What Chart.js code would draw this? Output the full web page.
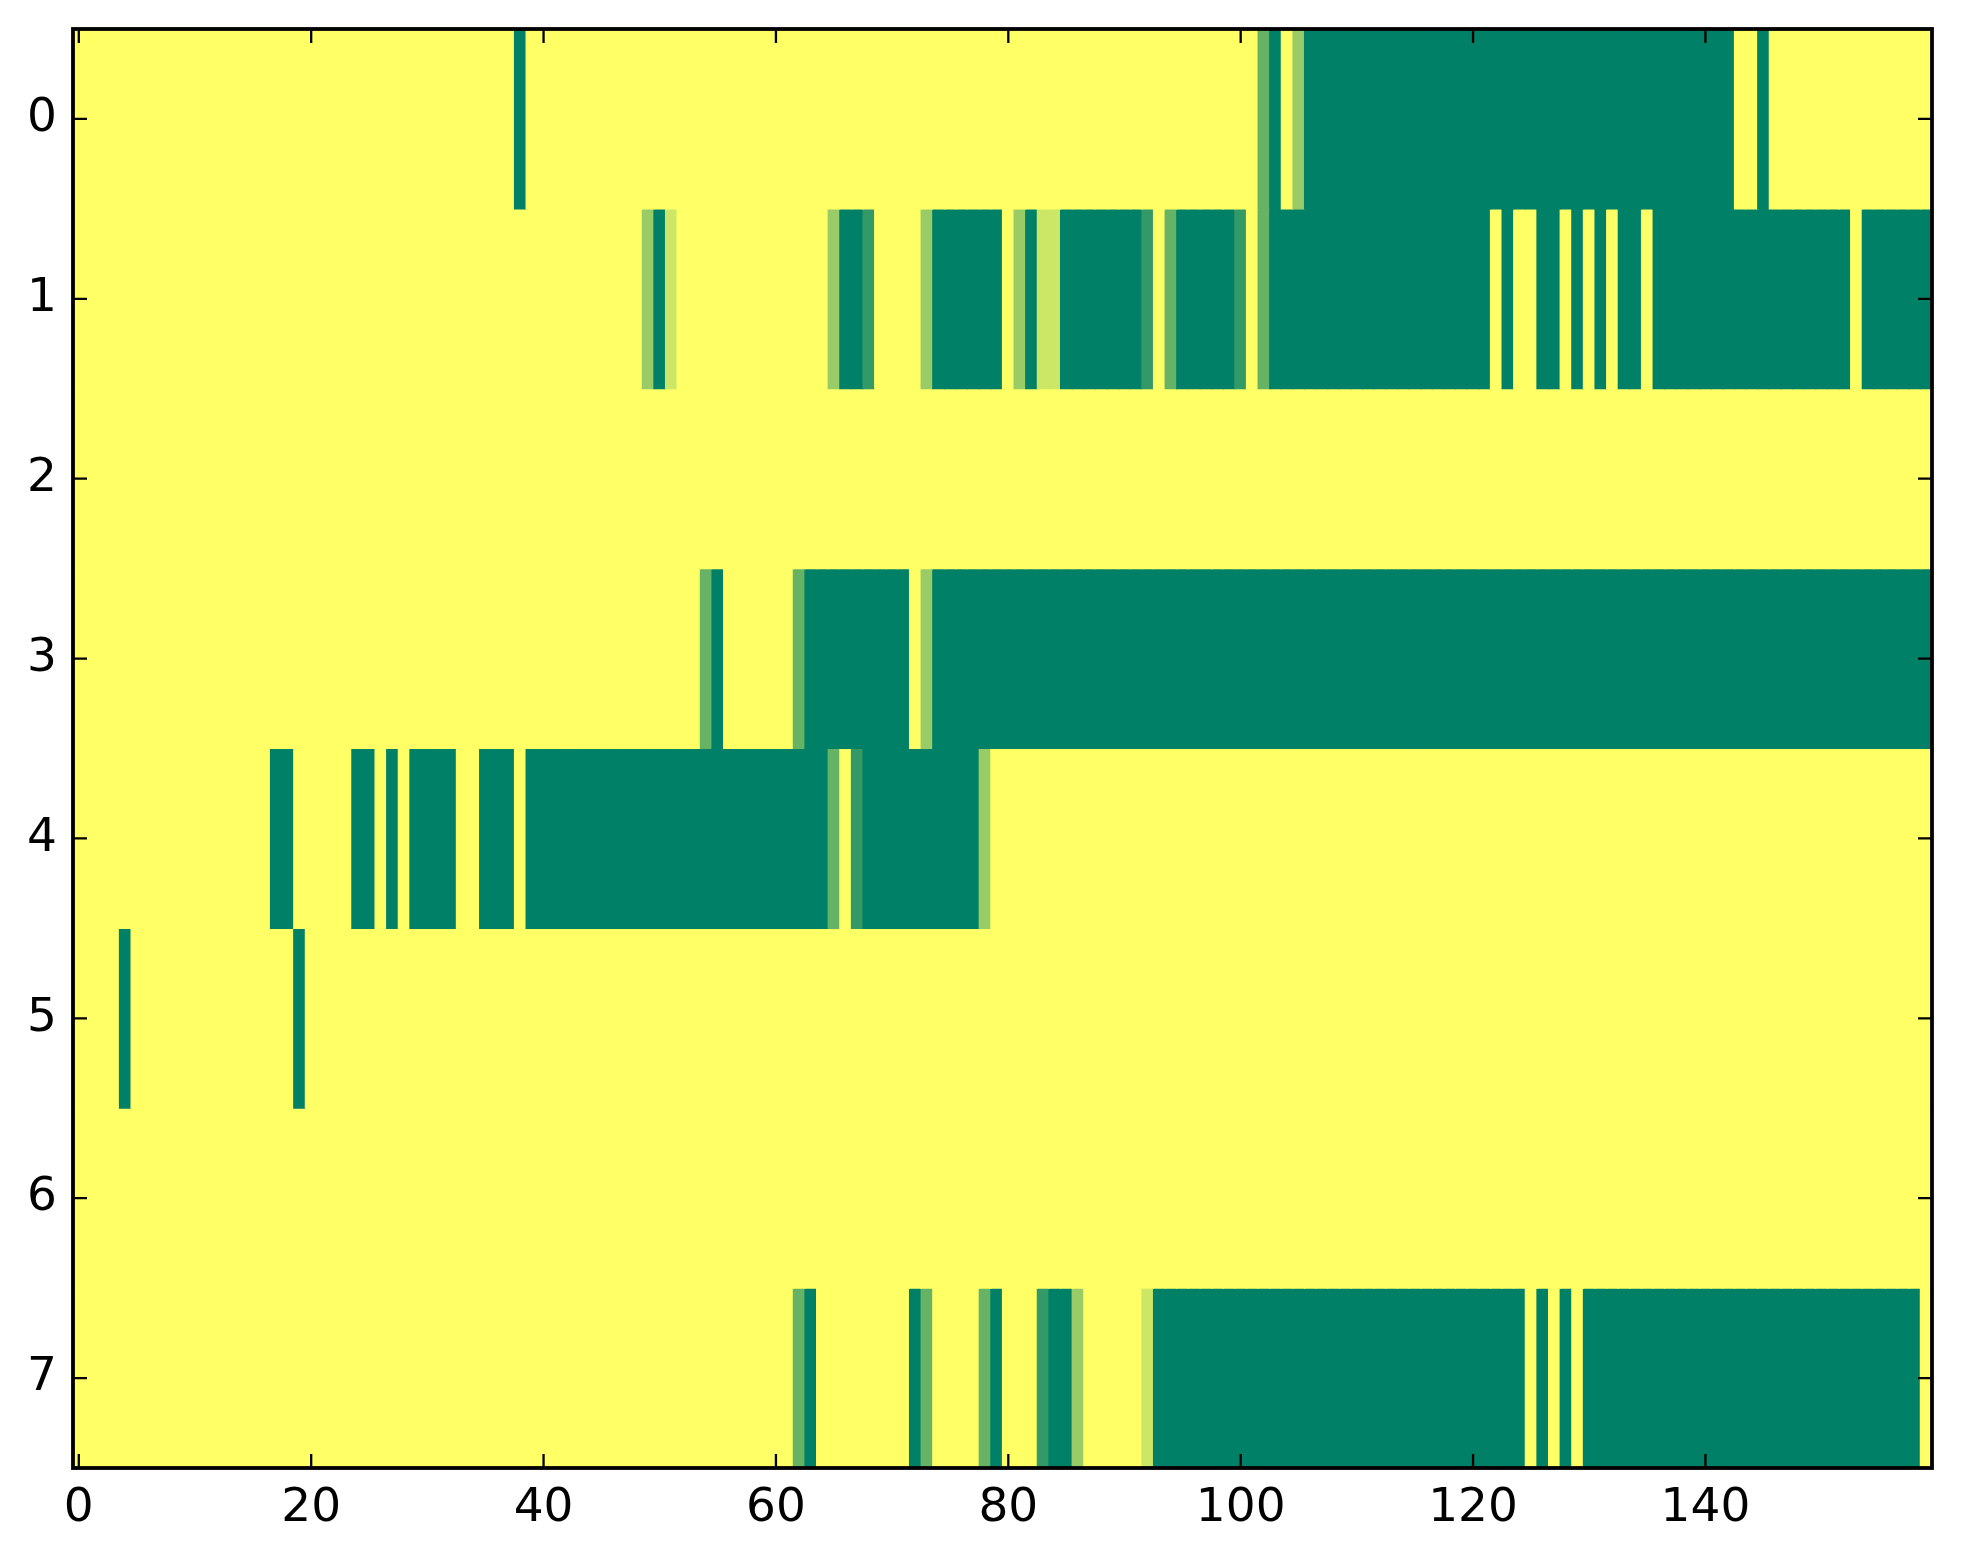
<!DOCTYPE html>
<html>
<head>
<meta charset="utf-8">
<script src="https://cdn.jsdelivr.net/npm/chart.js@4"></script>
<style>
  html, body { margin: 0; padding: 0; background: #fff; }
  canvas { display: block; }
</style>
</head>
<body>
<canvas id="chart" width="1963" height="1564"></canvas>
<script>
// row / column labels
const rowLabels = ['0', '1', '2', '3', '4', '5', '6', '7'];
const xTickValues = [0, 20, 40, 60, 80, 100, 120, 140];

// cell values, 160 columns per row (0 = green, 1 = yellow)
const row0 = [
  1, 1, 1, 1, 1, 1, 1, 1, 1, 1, 1, 1, 1, 1, 1, 1, 1, 1, 1, 1,
  1, 1, 1, 1, 1, 1, 1, 1, 1, 1, 1, 1, 1, 1, 1, 1, 1, 1, 0, 1,
  1, 1, 1, 1, 1, 1, 1, 1, 1, 1, 1, 1, 1, 1, 1, 1, 1, 1, 1, 1,
  1, 1, 1, 1, 1, 1, 1, 1, 1, 1, 1, 1, 1, 1, 1, 1, 1, 1, 1, 1,
  1, 1, 1, 1, 1, 1, 1, 1, 1, 1, 1, 1, 1, 1, 1, 1, 1, 1, 1, 1,
  1, 1, 0.4, 0, 1, 0.6, 0, 0, 0, 0, 0, 0, 0, 0, 0, 0, 0, 0, 0, 0,
  0, 0, 0, 0, 0, 0, 0, 0, 0, 0, 0, 0, 0, 0, 0, 0, 0, 0, 0, 0,
  0, 0, 0, 1, 1, 0, 1, 1, 1, 1, 1, 1, 1, 1, 1, 1, 1, 1, 1, 1
];
const row1 = [
  1, 1, 1, 1, 1, 1, 1, 1, 1, 1, 1, 1, 1, 1, 1, 1, 1, 1, 1, 1,
  1, 1, 1, 1, 1, 1, 1, 1, 1, 1, 1, 1, 1, 1, 1, 1, 1, 1, 1, 1,
  1, 1, 1, 1, 1, 1, 1, 1, 1, 0.6, 0, 0.8, 1, 1, 1, 1, 1, 1, 1, 1,
  1, 1, 1, 1, 1, 0.6, 0, 0, 0.2, 1, 1, 1, 1, 0.6, 0, 0, 0, 0, 0, 0,
  1, 0.6, 0, 0.8, 0.8, 0, 0, 0, 0, 0, 0, 0, 0.2, 1, 0.4, 0, 0, 0, 0, 0,
  0.2, 1, 0.4, 0, 0, 0, 0, 0, 0, 0, 0, 0, 0, 0, 0, 0, 0, 0, 0, 0,
  0, 0, 1, 0, 1, 1, 0, 0, 1, 0, 1, 0, 1, 0, 0, 1, 0, 0, 0, 0,
  0, 0, 0, 0, 0, 0, 0, 0, 0, 0, 0, 0, 0, 1, 0, 0, 0, 0, 0, 0
];
const row2 = [
  1, 1, 1, 1, 1, 1, 1, 1, 1, 1, 1, 1, 1, 1, 1, 1, 1, 1, 1, 1,
  1, 1, 1, 1, 1, 1, 1, 1, 1, 1, 1, 1, 1, 1, 1, 1, 1, 1, 1, 1,
  1, 1, 1, 1, 1, 1, 1, 1, 1, 1, 1, 1, 1, 1, 1, 1, 1, 1, 1, 1,
  1, 1, 1, 1, 1, 1, 1, 1, 1, 1, 1, 1, 1, 1, 1, 1, 1, 1, 1, 1,
  1, 1, 1, 1, 1, 1, 1, 1, 1, 1, 1, 1, 1, 1, 1, 1, 1, 1, 1, 1,
  1, 1, 1, 1, 1, 1, 1, 1, 1, 1, 1, 1, 1, 1, 1, 1, 1, 1, 1, 1,
  1, 1, 1, 1, 1, 1, 1, 1, 1, 1, 1, 1, 1, 1, 1, 1, 1, 1, 1, 1,
  1, 1, 1, 1, 1, 1, 1, 1, 1, 1, 1, 1, 1, 1, 1, 1, 1, 1, 1, 1
];
const row3 = [
  1, 1, 1, 1, 1, 1, 1, 1, 1, 1, 1, 1, 1, 1, 1, 1, 1, 1, 1, 1,
  1, 1, 1, 1, 1, 1, 1, 1, 1, 1, 1, 1, 1, 1, 1, 1, 1, 1, 1, 1,
  1, 1, 1, 1, 1, 1, 1, 1, 1, 1, 1, 1, 1, 1, 0.4, 0, 1, 1, 1, 1,
  1, 1, 0.4, 0, 0, 0, 0, 0, 0, 0, 0, 0, 1, 0.6, 0, 0, 0, 0, 0, 0,
  0, 0, 0, 0, 0, 0, 0, 0, 0, 0, 0, 0, 0, 0, 0, 0, 0, 0, 0, 0,
  0, 0, 0, 0, 0, 0, 0, 0, 0, 0, 0, 0, 0, 0, 0, 0, 0, 0, 0, 0,
  0, 0, 0, 0, 0, 0, 0, 0, 0, 0, 0, 0, 0, 0, 0, 0, 0, 0, 0, 0,
  0, 0, 0, 0, 0, 0, 0, 0, 0, 0, 0, 0, 0, 0, 0, 0, 0, 0, 0, 0
];
const row4 = [
  1, 1, 1, 1, 1, 1, 1, 1, 1, 1, 1, 1, 1, 1, 1, 1, 1, 0, 0, 1,
  1, 1, 1, 1, 0, 0, 1, 0, 1, 0, 0, 0, 0, 1, 1, 0, 0, 0, 1, 0,
  0, 0, 0, 0, 0, 0, 0, 0, 0, 0, 0, 0, 0, 0, 0, 0, 0, 0, 0, 0,
  0, 0, 0, 0, 0, 0.4, 1, 0.2, 0, 0, 0, 0, 0, 0, 0, 0, 0, 0, 0.6, 1,
  1, 1, 1, 1, 1, 1, 1, 1, 1, 1, 1, 1, 1, 1, 1, 1, 1, 1, 1, 1,
  1, 1, 1, 1, 1, 1, 1, 1, 1, 1, 1, 1, 1, 1, 1, 1, 1, 1, 1, 1,
  1, 1, 1, 1, 1, 1, 1, 1, 1, 1, 1, 1, 1, 1, 1, 1, 1, 1, 1, 1,
  1, 1, 1, 1, 1, 1, 1, 1, 1, 1, 1, 1, 1, 1, 1, 1, 1, 1, 1, 1
];
const row5 = [
  1, 1, 1, 1, 0, 1, 1, 1, 1, 1, 1, 1, 1, 1, 1, 1, 1, 1, 1, 0,
  1, 1, 1, 1, 1, 1, 1, 1, 1, 1, 1, 1, 1, 1, 1, 1, 1, 1, 1, 1,
  1, 1, 1, 1, 1, 1, 1, 1, 1, 1, 1, 1, 1, 1, 1, 1, 1, 1, 1, 1,
  1, 1, 1, 1, 1, 1, 1, 1, 1, 1, 1, 1, 1, 1, 1, 1, 1, 1, 1, 1,
  1, 1, 1, 1, 1, 1, 1, 1, 1, 1, 1, 1, 1, 1, 1, 1, 1, 1, 1, 1,
  1, 1, 1, 1, 1, 1, 1, 1, 1, 1, 1, 1, 1, 1, 1, 1, 1, 1, 1, 1,
  1, 1, 1, 1, 1, 1, 1, 1, 1, 1, 1, 1, 1, 1, 1, 1, 1, 1, 1, 1,
  1, 1, 1, 1, 1, 1, 1, 1, 1, 1, 1, 1, 1, 1, 1, 1, 1, 1, 1, 1
];
const row6 = [
  1, 1, 1, 1, 1, 1, 1, 1, 1, 1, 1, 1, 1, 1, 1, 1, 1, 1, 1, 1,
  1, 1, 1, 1, 1, 1, 1, 1, 1, 1, 1, 1, 1, 1, 1, 1, 1, 1, 1, 1,
  1, 1, 1, 1, 1, 1, 1, 1, 1, 1, 1, 1, 1, 1, 1, 1, 1, 1, 1, 1,
  1, 1, 1, 1, 1, 1, 1, 1, 1, 1, 1, 1, 1, 1, 1, 1, 1, 1, 1, 1,
  1, 1, 1, 1, 1, 1, 1, 1, 1, 1, 1, 1, 1, 1, 1, 1, 1, 1, 1, 1,
  1, 1, 1, 1, 1, 1, 1, 1, 1, 1, 1, 1, 1, 1, 1, 1, 1, 1, 1, 1,
  1, 1, 1, 1, 1, 1, 1, 1, 1, 1, 1, 1, 1, 1, 1, 1, 1, 1, 1, 1,
  1, 1, 1, 1, 1, 1, 1, 1, 1, 1, 1, 1, 1, 1, 1, 1, 1, 1, 1, 1
];
const row7 = [
  1, 1, 1, 1, 1, 1, 1, 1, 1, 1, 1, 1, 1, 1, 1, 1, 1, 1, 1, 1,
  1, 1, 1, 1, 1, 1, 1, 1, 1, 1, 1, 1, 1, 1, 1, 1, 1, 1, 1, 1,
  1, 1, 1, 1, 1, 1, 1, 1, 1, 1, 1, 1, 1, 1, 1, 1, 1, 1, 1, 1,
  1, 1, 0.4, 0, 1, 1, 1, 1, 1, 1, 1, 1, 0, 0.4, 1, 1, 1, 1, 0.4, 0,
  1, 1, 1, 0.2, 0, 0, 0.6, 1, 1, 1, 1, 1, 0.8, 0, 0, 0, 0, 0, 0, 0,
  0, 0, 0, 0, 0, 0, 0, 0, 0, 0, 0, 0, 0, 0, 0, 0, 0, 0, 0, 0,
  0, 0, 0, 0, 0, 1, 0, 1, 0, 1, 0, 0, 0, 0, 0, 0, 0, 0, 0, 0,
  0, 0, 0, 0, 0, 0, 0, 0, 0, 0, 0, 0, 0, 0, 0, 0, 0, 0, 0, 1
];
const rows = [row0, row1, row2, row3, row4, row5, row6, row7];

// matplotlib "summer" colormap
function summer(v) {
    const r = Math.round(255 * v);
    const g = Math.round(127.5 + 127.5 * v);
    return `rgb(${r}, ${g}, 102)`;
}

const datasets = rows.map((vals, r) => ({
    data: vals.map((v, c) => ({ x: c, y: [r - 0.5, r + 0.5] })),
    backgroundColor: vals.map(summer),
    borderWidth: 0,
    borderSkipped: false,
    inflateAmount: 0.6,
    grouped: false,
    barPercentage: 1,
    categoryPercentage: 1
}));

// spines on all sides + inward ticks like matplotlib
const frame = {
    id: 'frame',
    afterDatasetsDraw(chart) {
        const { ctx, chartArea: a, scales: { x, y } } = chart;
        const len = 14;
        ctx.save();
        ctx.strokeStyle = '#000';
        ctx.lineWidth = 2.3;
        ctx.beginPath();
        x.ticks.forEach(t => {
            const px = x.getPixelForValue(t.value);
            ctx.moveTo(px, a.bottom); ctx.lineTo(px, a.bottom - len);
            ctx.moveTo(px, a.top); ctx.lineTo(px, a.top + len);
        });
        y.ticks.forEach(t => {
            const py = y.getPixelForValue(t.value);
            ctx.moveTo(a.left, py); ctx.lineTo(a.left + len, py);
            ctx.moveTo(a.right, py); ctx.lineTo(a.right - len, py);
        });
        ctx.stroke();
        ctx.lineWidth = 3.8;
        ctx.strokeRect(a.left, a.top, a.right - a.left, a.bottom - a.top);
        ctx.restore();
    }
};

const tickFont = { family: 'DejaVu Sans', size: 47 };

new Chart(document.getElementById('chart'), {
    type: 'bar',
    data: { datasets },
    plugins: [frame],
    options: {
        responsive: false,
        animation: false,
        devicePixelRatio: 1,
        layout: { padding: { top: 29, right: 31, left: 0, bottom: 0 } },
        plugins: {
            legend: { display: false },
            tooltip: { enabled: false }
        },
        scales: {
            x: {
                type: 'linear',
                offset: false,
                min: -0.5,
                max: 159.5,
                grid: { display: false, drawTicks: false },
                border: { display: false },
                afterBuildTicks: s => { s.ticks = xTickValues.map(v => ({ value: v })); },
                afterFit: s => { s.height = 96; s.paddingLeft = 0; s.paddingRight = 0; },
                ticks: { font: tickFont, color: '#000', padding: 13, maxRotation: 0, callback: v => v }
            },
            y: {
                type: 'linear',
                reverse: true,
                min: -0.5,
                max: 7.5,
                grid: { display: false, drawTicks: false },
                border: { display: false },
                afterBuildTicks: s => { s.ticks = rowLabels.map((l, i) => ({ value: i })); },
                afterFit: s => { s.width = 73; s.paddingTop = 0; s.paddingBottom = 0; },
                ticks: { font: tickFont, color: '#000', padding: 16, callback: v => rowLabels[v] }
            }
        }
    }
});
</script>
</body>
</html>
